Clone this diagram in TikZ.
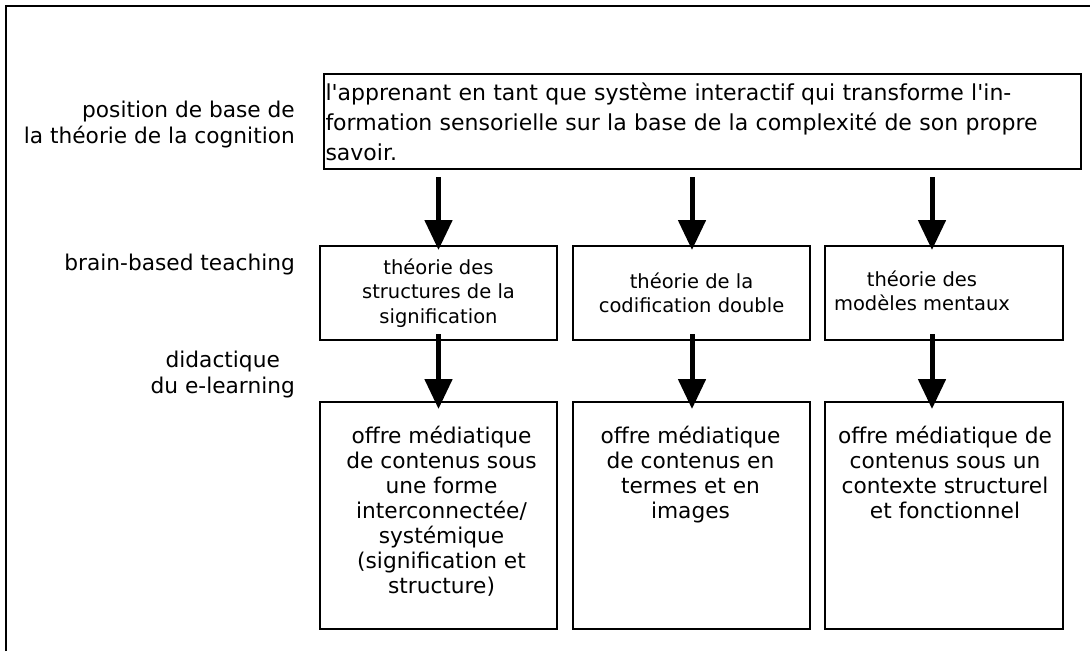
\documentclass[tikz,border=0pt]{standalone}
\usepackage{fontspec}
\setmainfont{DejaVu Sans}
\usetikzlibrary{arrows.meta,calc}
\newcommand{\apos}{\textquotesingle}
\begin{document}
\begin{tikzpicture}[x=1pt,y=-1pt,
  frameline/.style={line width=2pt},
  box/.style={draw,line width=2pt,inner sep=0pt},
  lbl/.style={inner sep=0pt,font=\fontsize{21.7}{26}\selectfont},
  midtxt/.style={font=\fontsize{19.5}{24.5}\selectfont,align=center},
  bottxt/.style={inner sep=0pt,anchor=north,font=\fontsize{21.7}{25}\selectfont,align=center},
  arr/.style={line width=5pt,-{Triangle[length=30pt,width=27pt]}},
  ]
\useasboundingbox (0,0) rectangle (1090,651);
\draw[frameline] (6,651) -- (6,6) -- (1090,6);

% row labels
\node[lbl,anchor=east,align=right] (l1) at (295,125) {position de base de\\la théorie de la cognition};
\node[lbl,anchor=east] (l2) at (295,265) {brain-based teaching};
\node[lbl,anchor=east,align=center] (l3) at (295,375) {didactique\\du e-learning};

% top box
\node[box,anchor=north west,minimum width=757,minimum height=95,text width=754,align=left,
      font=\fontsize{22}{30}\selectfont] (top) at (323,73)
  {l\apos apprenant en tant que système interactif qui transforme l\apos in-\\formation sensorielle sur la base de la complexité de son propre\\savoir.};

% middle boxes
\node[box,midtxt,minimum width=237,minimum height=94] (m1) at (438.5,293) {théorie des\\structures de la\\signification};
\node[box,midtxt,minimum width=237,minimum height=94] (m2) at (691.5,293) {théorie de la\\codification double};
\node[box,minimum width=238,minimum height=94] (m3) at (944,293) {};
\node[midtxt,inner sep=0pt] (t3) at (922,291) {théorie des\\modèles mentaux};

% bottom boxes
\node[box,minimum width=237,minimum height=227] (b1) at (438.5,515.5) {};
\node[box,minimum width=237,minimum height=227] (b2) at (691.5,515.5) {};
\node[box,minimum width=238,minimum height=227] (b3) at (944,515.5) {};
\node[bottxt] (bt1) at ($(b1.north)+(3,25)$) {offre médiatique\\de contenus sous\\une forme\\interconnectée/\\systémique\\(signification et\\structure)};
\node[bottxt] (bt2) at ($(b2.north)+(-1,25)$) {offre médiatique\\de contenus en\\termes et en\\images};
\node[bottxt] (bt3) at ($(b3.north)+(1,25)$) {offre médiatique de\\contenus sous un\\contexte structurel\\et fonctionnel};

% arrows
\draw[arr] ($(top.south -| m1.north)+(0,7)$) -- ($(m1.north)+(0,5)$);
\draw[arr] ($(top.south -| m2.north)+(0.5,7)$) -- ($(m2.north)+(0.5,5)$);
\draw[arr] ($(top.south -| m3.north)+(-12,7)$) -- ($(m3.north)+(-12,5)$);
\draw[arr] ($(m1.south)+(0,-7)$) -- ($(b1.north)+(0,8)$);
\draw[arr] ($(m2.south)+(0.5,-7)$) -- ($(b2.north)+(0.5,8)$);
\draw[arr] ($(m3.south)+(-12,-7)$) -- ($(b3.north)+(-12,8)$);
\end{tikzpicture}
\end{document}
